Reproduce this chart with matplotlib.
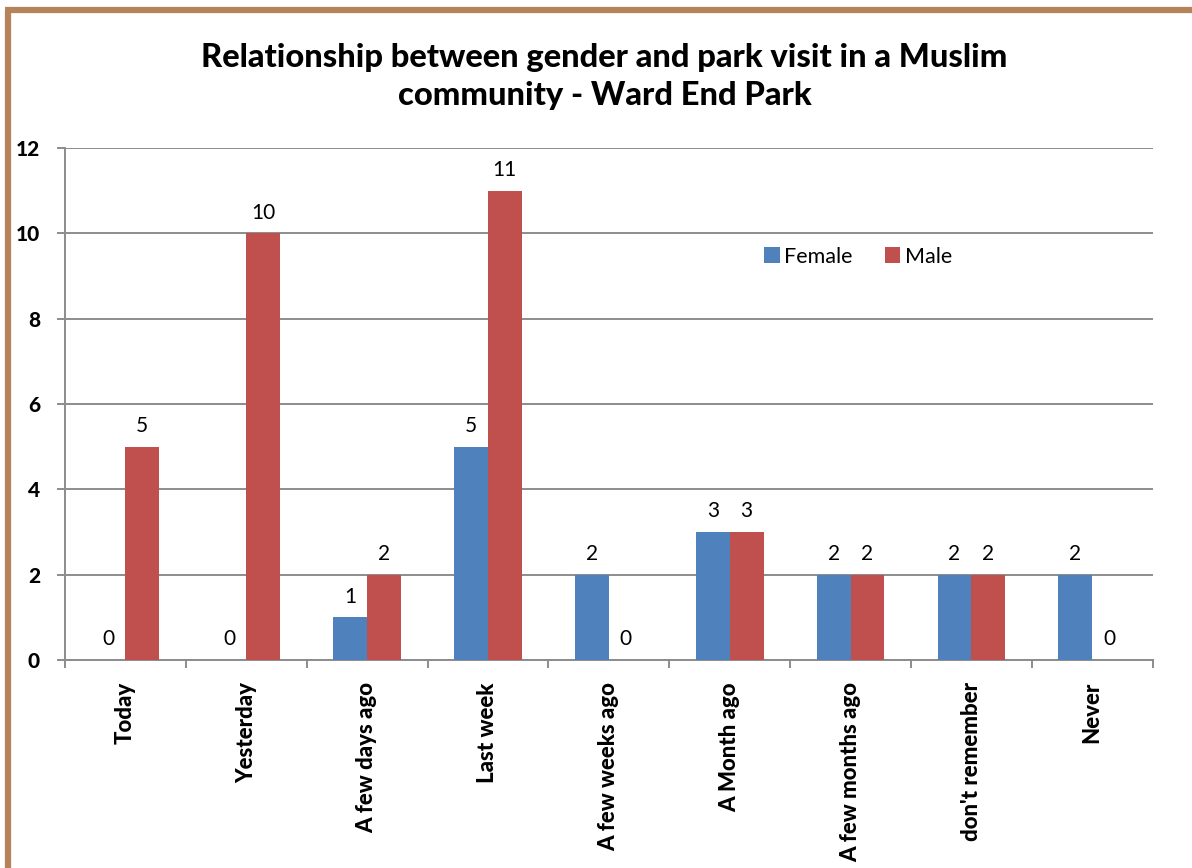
import matplotlib.pyplot as plt
import numpy as np
from matplotlib.lines import Line2D

categories = ['Today', 'Yesterday', 'A few days ago', 'Last week', 'A few weeks ago',
              'A Month ago', 'A few months ago', "don't remember", 'Never']
female = [0, 0, 1, 5, 2, 3, 2, 2, 2]
male = [5, 10, 2, 11, 0, 3, 2, 2, 0]

plt.rcParams['font.family'] = ['Lato', 'DejaVu Sans']

fig = plt.figure(figsize=(11.92, 8.68), dpi=100)
ax = fig.add_axes([0.0545, 0.2396, 0.9125, 0.5899])

x = np.arange(len(categories))
w = 0.28
bf = ax.bar(x - w / 2, female, w, color='#4F81BD', label='Female', zorder=3)
bm = ax.bar(x + w / 2, male, w, color='#C0504D', label='Male', zorder=3)

for bars, vals in ((bf, female), (bm, male)):
    for b, v in zip(bars, vals):
        ax.text(b.get_x() + b.get_width() / 2, v + 0.25, str(v),
                ha='center', va='bottom', fontsize=15)

ax.set_xlim(-0.5, len(categories) - 0.5)
ax.set_ylim(0, 12)
ax.set_yticks(range(0, 13, 2))
ax.yaxis.grid(True, color='#8C8C8C', linewidth=1.4, zorder=0)
for s in ('top', 'right'):
    ax.spines[s].set_visible(False)
for s in ('left', 'bottom'):
    ax.spines[s].set_color('#8C8C8C')
    ax.spines[s].set_linewidth(1.4)

ax.set_xticks(x)
ax.set_xticklabels(categories, rotation=90, fontsize=16, fontweight='black')
ax.tick_params(axis='x', length=0, pad=16)
ax.set_xticks(np.arange(-0.5, len(categories)), minor=True)
ax.tick_params(axis='x', which='minor', length=6, color='#8C8C8C', width=1.4)
ax.tick_params(axis='y', length=6, color='#8C8C8C', width=1.4, labelsize=15, pad=12)
for t in ax.get_yticklabels():
    t.set_fontweight('black')

ax.legend(loc='center left', bbox_to_anchor=(0.625, 0.788), frameon=False, ncol=2,
          fontsize=15.5, handlelength=0.72, handleheight=0.72, handletextpad=0.2,
          columnspacing=1.5)

fig.text(0.507, 0.912, 'Relationship between gender and park visit in a Muslim\ncommunity - Ward End Park',
         ha='center', va='center', fontsize=23.5, fontweight='black', linespacing=1.4)

# brown frame along the left and top edges
fig.add_artist(Line2D([0.0063, 0.0063], [0.0, 0.9885], color='#B5835A', linewidth=4.5,
                      transform=fig.transFigure, solid_capstyle='butt'))
fig.add_artist(Line2D([0.0042, 1.0], [0.9885, 0.9885], color='#B5835A', linewidth=4.5,
                      transform=fig.transFigure, solid_capstyle='butt'))

fig.savefig('out.png', dpi=100)
